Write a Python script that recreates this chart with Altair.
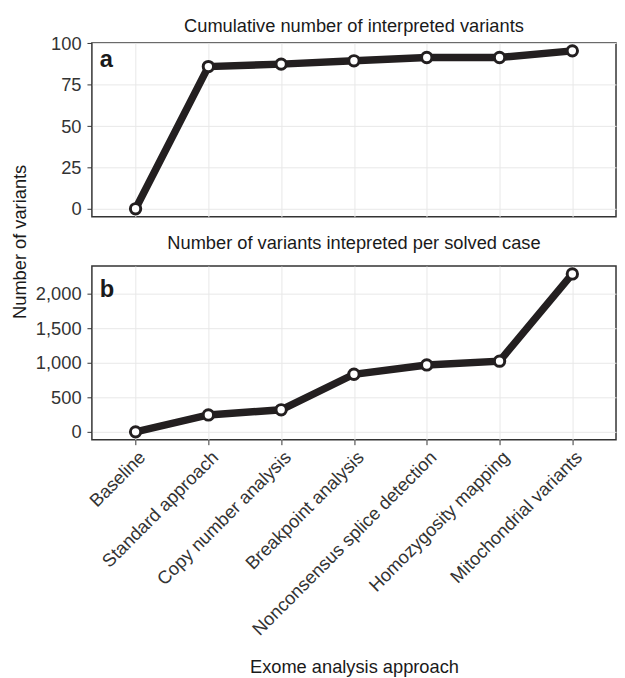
import altair as alt
import pandas as pd

approaches = [
    "Baseline",
    "Standard approach",
    "Copy number analysis",
    "Breakpoint analysis",
    "Nonconsensus splice detection",
    "Homozygosity mapping",
    "Mitochondrial variants",
]
cumulative = [0, 86, 87.5, 89.5, 91.5, 91.5, 95.5]
per_case = [0, 245, 320, 835, 970, 1025, 2290]
ticks_a = [0, 25, 50, 75, 100]
ticks_b = [0, 500, 1000, 1500, 2000]

df_a = pd.DataFrame({"approach": approaches, "value": cumulative})
df_b = pd.DataFrame({"approach": approaches, "value": per_case})

FONT = "Liberation Sans"
LINE = "#231f20"
FS = 18.5
W, H = 531, 176


def span(vals):
    lo, hi = min(vals), max(vals)
    pad = (hi - lo) * 0.05
    return [lo - pad, hi + pad]


def panel(df, ticks, fmt, title, title_offset, letter, letter_y, show_x, ytitle):
    xenc = alt.X(
        "approach:N",
        sort=approaches,
        scale=alt.Scale(type="point", padding=0.6),
        axis=(
            alt.Axis(
                title="Exome analysis approach",
                labelAngle=-45,
                labelAlign="right",
                labelBaseline="top",
                labelPadding=3,
                labelLimit=0,
                titlePadding=21,
                grid=True,
            )
            if show_x
            else alt.Axis(title=None, labels=False, ticks=False, grid=True, domain=False)
        ),
    )
    yaxis_kw = dict(values=ticks, format=fmt, grid=True, labelPadding=6)
    if ytitle:
        yaxis_kw.update(title="Number of variants", titleX=-73, titleY=201,
                        titleBaseline="middle")
    else:
        yaxis_kw.update(title=None)
    yenc = alt.Y(
        "value:Q",
        scale=alt.Scale(domain=span(df["value"]), nice=False, zero=False),
        axis=alt.Axis(**yaxis_kw),
    )
    base = alt.Chart(df).encode(x=xenc, y=yenc)
    line = base.mark_line(color=LINE, strokeWidth=7.5)
    pts = base.mark_point(filled=True, fill="white", stroke=LINE, strokeWidth=3,
                          size=110, opacity=1)
    lab = alt.Chart(pd.DataFrame({"t": [letter]})).mark_text(
        align="left", baseline="alphabetic", font=FONT, fontSize=24,
        fontWeight="bold", color="#1a1a1a"
    ).encode(text="t:N", x=alt.value(8), y=alt.value(letter_y))
    return alt.layer(line, pts, lab).properties(
        width=W, height=H,
        title=alt.TitleParams(title, font=FONT, fontSize=FS, fontWeight="normal",
                              color="#1a1a1a", offset=title_offset, frame="group",
                              anchor="middle"),
    )


pa = panel(df_a, ticks_a, "d", "Cumulative number of interpreted variants", -1,
           "a", 24, False, True)
pb = panel(df_b, ticks_b, ",d", "Number of variants intepreted per solved case", 7,
           "b", 31, True, False)

chart = alt.vconcat(pa, pb, spacing=50, bounds="flush").properties(
    padding={"left": 2, "top": 4, "right": 0, "bottom": 0}
).configure_view(
    stroke="#333333", strokeWidth=1.5
).configure_axis(
    labelFont=FONT, labelFontSize=FS, labelColor="#333333",
    titleFont=FONT, titleFontSize=FS, titleColor="#1a1a1a", titleFontWeight="normal",
    tickColor="#333333", tickSize=5, tickWidth=1,
    gridColor="#e8e8e8", gridWidth=1, domain=False,
)

chart.save("out.html", embed_options={"renderer": "svg", "actions": False})
